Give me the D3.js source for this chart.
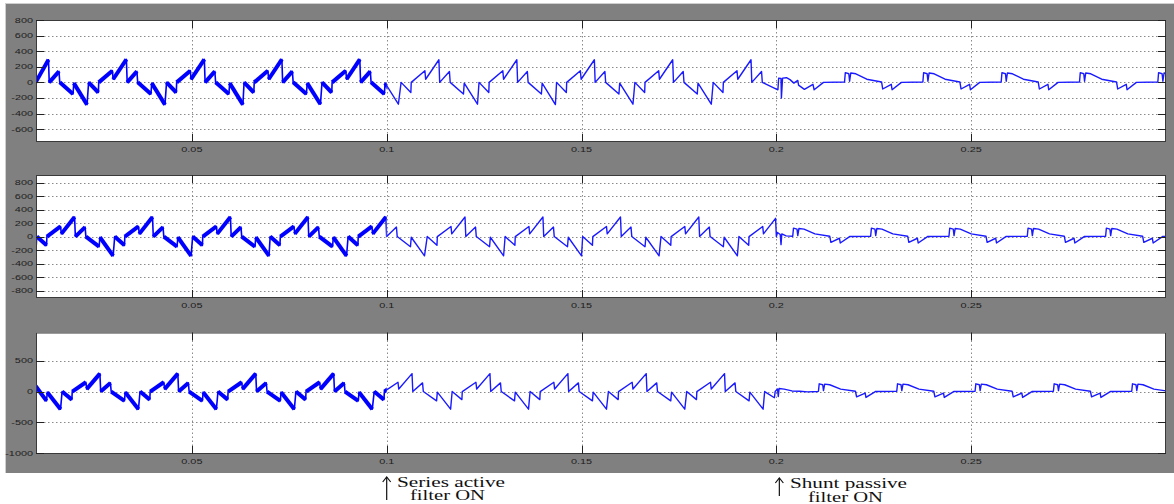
<!DOCTYPE html>
<html><head><meta charset="utf-8">
<script src="https://cdn.jsdelivr.net/npm/d3@7"></script>
<style>body{margin:0;background:#fff;} svg{display:block;}</style>
</head><body>
<svg id="chart" width="1174" height="504"></svg>
<script>
// ---------- data ----------
const xDomain = [0.01, 0.3];
const xTicks = [0.05, 0.1, 0.15, 0.2, 0.25];
const xTickLabels = ["0.05", "0.1", "0.15", "0.2", "0.25"];
const yTicksA = [800, 600, 400, 200, 0, -200, -400, -600];
const yTicksB = [800, 600, 400, 200, 0, -200, -400, -600, -800];
const yTicksC = [500, 0, -500, -1000];
const yDomainA = [-765, 800];
const yDomainB = [-910, 912];
const yDomainC = [-1010, 955];
const switchTimes = [0.1, 0.2];
const annotationLines = [["Series active", "filter ON"], ["Shunt passive", "filter ON"]];

// phase A current [time s, current A]
const phaseA = [
[0.0099,0],[0.0132,290],[0.0134,0],[0.0159,140],[0.0161,0],[0.0195,-150],[0.0197,-10],[0.0231,-285],
[0.0235,0],[0.0260,-130],[0.0261,0],[0.0296,150],[0.0298,40],[0.0332,295],[0.0334,0],[0.0359,140],[0.0361,0],[0.0395,-150],[0.0397,-10],[0.0431,-285],
[0.0435,0],[0.0460,-130],[0.0461,0],[0.0496,150],[0.0498,40],[0.0532,295],[0.0534,0],[0.0559,140],[0.0561,0],[0.0595,-150],[0.0597,-10],[0.0631,-285],
[0.0634,0],[0.0659,-130],[0.0660,0],[0.0695,150],[0.0697,40],[0.0731,295],[0.0733,0],[0.0758,140],[0.0760,0],[0.0794,-150],[0.0796,-10],[0.0830,-280],
[0.0834,0],[0.0859,-130],[0.0860,0],[0.0895,150],[0.0897,40],[0.0931,295],[0.0933,0],[0.0958,140],[0.0960,0],[0.0994,-150],[0.0996,-10],[0.1030,-280],
[0.1037,0],[0.1062,-130],[0.1063,0],[0.1098,150],[0.1100,40],[0.1134,290],[0.1136,0],[0.1161,140],[0.1163,0],[0.1197,-150],[0.1199,-10],[0.1233,-280],
[0.1237,0],[0.1262,-130],[0.1263,0],[0.1298,150],[0.1300,40],[0.1334,290],[0.1336,0],[0.1361,140],[0.1363,0],[0.1397,-150],[0.1399,-10],[0.1433,-285],
[0.1436,0],[0.1461,-130],[0.1462,0],[0.1497,150],[0.1499,40],[0.1533,290],[0.1535,0],[0.1560,140],[0.1562,0],[0.1596,-150],[0.1598,-10],[0.1632,-280],
[0.1637,0],[0.1662,-130],[0.1663,0],[0.1698,150],[0.1700,40],[0.1734,290],[0.1736,0],[0.1761,140],[0.1763,0],[0.1797,-150],[0.1799,-10],[0.1833,-280],
[0.1838,0],[0.1863,-130],[0.1864,0],[0.1899,150],[0.1901,40],[0.1935,290],[0.1937,0],[0.1962,140],[0.1964,0],
[0.2004,-95],[0.2006,55],[0.2012,50],[0.2013,-200],[0.2016,55],[0.2026,60],[0.2035,35],[0.2045,-10],[0.2055,25],[0.2057,-35],[0.2072,-90],[0.2094,-25],[0.2097,-95],[0.2121,0],
[0.2175,5],[0.2177,125],[0.2186,110],[0.2188,15],[0.2191,120],[0.2204,110],[0.2232,40],[0.2270,5],[0.2273,-85],[0.2295,-25],[0.2297,-95],[0.2321,0],
[0.2376,5],[0.2378,125],[0.2387,110],[0.2389,15],[0.2392,120],[0.2405,110],[0.2433,40],[0.2471,5],[0.2474,-85],[0.2496,-25],[0.2498,-95],[0.2522,0],
[0.2577,5],[0.2579,125],[0.2588,110],[0.2590,15],[0.2593,120],[0.2606,110],[0.2634,40],[0.2672,5],[0.2675,-85],[0.2697,-25],[0.2699,-95],[0.2723,0],
[0.2778,5],[0.2780,125],[0.2789,110],[0.2791,15],[0.2794,120],[0.2807,110],[0.2835,40],[0.2873,5],[0.2876,-85],[0.2898,-25],[0.2900,-95],[0.2924,0],
[0.2979,5],[0.2981,125],[0.2990,110],[0.2992,15],[0.2995,120],[0.3008,110]
];

// phase B current
const phaseB = [
[0.0099,-285],[0.0102,0],[0.0127,-130],[0.0128,0],[0.0163,150],[0.0165,40],[0.0199,290],[0.0201,0],[0.0226,140],[0.0228,0],[0.0262,-150],[0.0264,-10],[0.0298,-285],
[0.0302,0],[0.0327,-130],[0.0328,0],[0.0363,150],[0.0365,40],[0.0399,290],[0.0401,0],[0.0426,140],[0.0428,0],[0.0462,-150],[0.0464,-10],[0.0498,-285],
[0.0502,0],[0.0527,-130],[0.0528,0],[0.0563,150],[0.0565,40],[0.0599,290],[0.0601,0],[0.0626,140],[0.0628,0],[0.0662,-150],[0.0664,-10],[0.0698,-285],
[0.0701,0],[0.0726,-130],[0.0727,0],[0.0762,150],[0.0764,40],[0.0798,290],[0.0800,0],[0.0825,140],[0.0827,0],[0.0861,-150],[0.0863,-10],[0.0897,-285],
[0.0901,0],[0.0926,-130],[0.0927,0],[0.0962,150],[0.0964,40],[0.0998,290],[0.1000,0],[0.1025,140],[0.1027,0],[0.1061,-150],[0.1063,-10],[0.1097,-285],
[0.1104,0],[0.1129,-130],[0.1130,0],[0.1165,150],[0.1167,40],[0.1201,290],[0.1203,0],[0.1228,140],[0.1230,0],[0.1264,-150],[0.1266,-10],[0.1300,-285],
[0.1304,0],[0.1329,-130],[0.1330,0],[0.1365,150],[0.1367,40],[0.1401,290],[0.1403,0],[0.1428,140],[0.1430,0],[0.1464,-150],[0.1466,-10],[0.1500,-285],
[0.1503,0],[0.1528,-130],[0.1529,0],[0.1564,150],[0.1566,40],[0.1600,290],[0.1602,0],[0.1627,140],[0.1629,0],[0.1663,-150],[0.1665,-10],[0.1699,-285],
[0.1704,0],[0.1729,-130],[0.1730,0],[0.1765,150],[0.1767,40],[0.1801,290],[0.1803,0],[0.1828,140],[0.1830,0],[0.1864,-150],[0.1866,-10],[0.1900,-285],
[0.1904,0],[0.1929,-130],[0.1930,0],[0.1965,150],[0.1967,40],[0.1998,270],[0.2000,0],[0.2003,60],[0.2010,30],[0.2012,-120],[0.2014,40],[0.2025,10],
[0.2042,5],[0.2044,125],[0.2053,110],[0.2055,15],[0.2058,120],[0.2071,110],[0.2099,40],[0.2137,5],[0.2140,-85],[0.2162,-25],[0.2164,-95],[0.2188,0],
[0.2242,5],[0.2244,125],[0.2253,110],[0.2255,15],[0.2258,120],[0.2271,110],[0.2299,40],[0.2337,5],[0.2340,-85],[0.2362,-25],[0.2364,-95],[0.2388,0],
[0.2443,5],[0.2445,125],[0.2454,110],[0.2456,15],[0.2459,120],[0.2472,110],[0.2500,40],[0.2538,5],[0.2541,-85],[0.2563,-25],[0.2565,-95],[0.2589,0],
[0.2644,5],[0.2646,125],[0.2655,110],[0.2657,15],[0.2660,120],[0.2673,110],[0.2701,40],[0.2739,5],[0.2742,-85],[0.2764,-25],[0.2766,-95],[0.2790,0],
[0.2845,5],[0.2847,125],[0.2856,110],[0.2858,15],[0.2861,120],[0.2874,110],[0.2902,40],[0.2940,5],[0.2943,-85],[0.2965,-25],[0.2967,-95],[0.2991,0],[0.3010,5]
];

// phase C current
const phaseC = [
[0.0099,90],[0.0127,-150],[0.0129,-10],[0.0163,-285],
[0.0167,0],[0.0192,-130],[0.0193,0],[0.0228,150],[0.0230,40],[0.0264,290],[0.0266,0],[0.0291,140],[0.0293,0],[0.0327,-150],[0.0329,-10],[0.0363,-285],
[0.0367,0],[0.0392,-130],[0.0393,0],[0.0428,150],[0.0430,40],[0.0464,290],[0.0466,0],[0.0491,140],[0.0493,0],[0.0527,-150],[0.0529,-10],[0.0563,-285],
[0.0567,0],[0.0592,-130],[0.0593,0],[0.0628,150],[0.0630,40],[0.0664,290],[0.0666,0],[0.0691,140],[0.0693,0],[0.0727,-150],[0.0729,-10],[0.0763,-285],
[0.0767,0],[0.0792,-130],[0.0793,0],[0.0828,150],[0.0830,40],[0.0864,290],[0.0866,0],[0.0891,140],[0.0893,0],[0.0927,-150],[0.0929,-10],[0.0963,-285],
[0.0968,0],[0.0993,-130],[0.0994,0],[0.1029,150],[0.1031,40],[0.1065,290],[0.1067,0],[0.1092,140],[0.1094,0],[0.1128,-150],[0.1130,-10],[0.1164,-285],
[0.1168,0],[0.1193,-130],[0.1194,0],[0.1229,150],[0.1231,40],[0.1265,290],[0.1267,0],[0.1292,140],[0.1294,0],[0.1328,-150],[0.1330,-10],[0.1364,-285],
[0.1368,0],[0.1393,-130],[0.1394,0],[0.1429,150],[0.1431,40],[0.1465,290],[0.1467,0],[0.1492,140],[0.1494,0],[0.1528,-150],[0.1530,-10],[0.1564,-285],
[0.1569,0],[0.1594,-130],[0.1595,0],[0.1630,150],[0.1632,40],[0.1666,290],[0.1668,0],[0.1693,140],[0.1695,0],[0.1729,-150],[0.1731,-10],[0.1765,-285],
[0.1770,0],[0.1795,-130],[0.1796,0],[0.1831,150],[0.1833,40],[0.1867,290],[0.1869,0],[0.1894,140],[0.1896,0],[0.1930,-150],[0.1932,-10],[0.1966,-285],
[0.1970,0],[0.1995,-100],[0.1997,0],[0.2003,40],[0.2005,-80],[0.2007,50],[0.2020,40],[0.2040,10],[0.2060,5],[0.2080,-5],[0.2107,0],
[0.2108,5],[0.2110,125],[0.2119,110],[0.2121,15],[0.2124,120],[0.2137,110],[0.2165,40],[0.2203,5],[0.2206,-85],[0.2228,-25],[0.2230,-95],[0.2254,0],
[0.2309,5],[0.2311,125],[0.2320,110],[0.2322,15],[0.2325,120],[0.2338,110],[0.2366,40],[0.2404,5],[0.2407,-85],[0.2429,-25],[0.2431,-95],[0.2455,0],
[0.2510,5],[0.2512,125],[0.2521,110],[0.2523,15],[0.2526,120],[0.2539,110],[0.2567,40],[0.2605,5],[0.2608,-85],[0.2630,-25],[0.2632,-95],[0.2656,0],
[0.2711,5],[0.2713,125],[0.2722,110],[0.2724,15],[0.2727,120],[0.2740,110],[0.2768,40],[0.2806,5],[0.2809,-85],[0.2831,-25],[0.2833,-95],[0.2857,0],
[0.2912,5],[0.2914,125],[0.2923,110],[0.2925,15],[0.2928,120],[0.2941,110],[0.2969,40],[0.3007,5]
];

// ---------- drawing ----------
const svg = d3.select("#chart");
const L = 36, R = 1166;
const panels = [
  {data: phaseA, yDomain: yDomainA, yTicks: yTicksA, top: 20, bottom: 142},
  {data: phaseB, yDomain: yDomainB, yTicks: yTicksB, top: 175, bottom: 298},
  {data: phaseC, yDomain: yDomainC, yTicks: yTicksC, top: 332.5, bottom: 454}
];
const x = d3.scaleLinear().domain(xDomain).range([L, R]);

// gray figure background
svg.append("rect").attr("x", 5).attr("y", 3).attr("width", 1169).attr("height", 470).attr("fill", "#808080");
svg.append("line").attr("x1", 5.5).attr("x2", 5.5).attr("y1", 3).attr("y2", 473).attr("stroke", "#cfcfcf");
svg.append("line").attr("x1", 5).attr("x2", 1174).attr("y1", 3.5).attr("y2", 3.5).attr("stroke", "#cfcfcf");

const defs = svg.append("defs");
const labelFont = "'Liberation Sans', Arial, sans-serif";

panels.forEach((p, i) => {
  const y = d3.scaleLinear().domain(p.yDomain).range([p.bottom, p.top]);
  const g = svg.append("g");
  g.append("rect").attr("x", L).attr("y", p.top).attr("width", R - L).attr("height", p.bottom - p.top).attr("fill", "#fff");

  // grid
  g.selectAll(".hg").data(p.yTicks).join("line")
    .attr("x1", L).attr("x2", R).attr("y1", d => Math.round(y(d)) + 0.5).attr("y2", d => Math.round(y(d)) + 0.5)
    .attr("stroke", "#8a8a8a").attr("stroke-dasharray", "1.5,2.5").attr("stroke-width", 1);
  g.selectAll(".vg").data(xTicks).join("line")
    .attr("x1", d => Math.round(x(d)) + 0.5).attr("x2", d => Math.round(x(d)) + 0.5).attr("y1", p.top).attr("y2", p.bottom)
    .attr("stroke", "#8a8a8a").attr("stroke-dasharray", "1.5,2.5").attr("stroke-width", 1);

  // clips
  const xs = x(switchTimes[0]);
  defs.append("clipPath").attr("id", "clipThick" + i).append("rect")
    .attr("x", L).attr("y", p.top).attr("width", xs - L).attr("height", p.bottom - p.top);
  defs.append("clipPath").attr("id", "clipThin" + i).append("rect")
    .attr("x", xs).attr("y", p.top).attr("width", R - xs).attr("height", p.bottom - p.top);
  defs.append("clipPath").attr("id", "clipAll" + i).append("rect")
    .attr("x", L).attr("y", p.top).attr("width", R - L).attr("height", p.bottom - p.top);

  const line = d3.line().x(d => x(d[0])).y(d => y(d[1]));
  // ramps before the series filter switches on carry heavy ripple -> drawn as thick bands
  const ramps = d3.pairs(p.data).filter(([a, b]) => b[0] - a[0] > 0.001 && a[0] < switchTimes[0]);
  g.append("g").attr("clip-path", `url(#clipThick${i})`).selectAll("path").data(ramps).join("path")
    .attr("d", d => line(d)).attr("fill", "none").attr("stroke", "#0000ff")
    .attr("stroke-width", 4).attr("stroke-linecap", "butt");
  g.append("path").datum(p.data).attr("d", line).attr("fill", "none")
    .attr("stroke", "#0000ff").attr("stroke-width", 1.6).attr("stroke-linejoin", "round")
    .attr("clip-path", `url(#clipThick${i})`);
  g.append("path").datum(p.data).attr("d", line).attr("fill", "none")
    .attr("stroke", "#1a1aff").attr("stroke-width", 1.4).attr("stroke-linejoin", "round")
    .attr("clip-path", `url(#clipThin${i})`);

  // border
  g.append("rect").attr("x", L + 0.5).attr("y", p.top + 0.5).attr("width", R - L - 1).attr("height", p.bottom - p.top - 1)
    .attr("fill", "none").attr("stroke", "#3a3a3a").attr("stroke-width", 1);

  // ticks (inside)
  p.yTicks.forEach(t => {
    const yy = Math.round(y(t)) + 0.5;
    g.append("line").attr("x1", L).attr("x2", L + 8).attr("y1", yy).attr("y2", yy).attr("stroke", "#222");
    g.append("line").attr("x1", R - 8).attr("x2", R).attr("y1", yy).attr("y2", yy).attr("stroke", "#222");
    g.append("text").attr("transform", `translate(${L - 3},${y(t) + 2.5}) scale(1.45,1)`)
      .attr("text-anchor", "end").attr("font-family", labelFont).attr("font-size", 7.5)
      .attr("fill", "#1e1e1e").text(String(t));
  });
  xTicks.forEach((t, k) => {
    const xx = Math.round(x(t)) + 0.5;
    g.append("line").attr("x1", xx).attr("x2", xx).attr("y1", p.bottom - 8).attr("y2", p.bottom).attr("stroke", "#222");
    g.append("line").attr("x1", xx).attr("x2", xx).attr("y1", p.top).attr("y2", p.top + 8).attr("stroke", "#222");
    g.append("text").attr("transform", `translate(${x(t)},${p.bottom + 9.5}) scale(1.45,1)`)
      .attr("text-anchor", "middle").attr("font-family", labelFont).attr("font-size", 7.5)
      .attr("fill", "#1e1e1e").text(xTickLabels[k]);
  });
});

// annotations
const serif = "'Liberation Serif', 'Times New Roman', serif";
const ann = [
  {t: switchTimes[0], yTop: 477, yBot: 500, l1x: 397, l1y: 487, l1w: 108, l2x: 410, l2y: 500, l2w: 75},
  {t: switchTimes[1], yTop: 478, yBot: 496, l1x: 790, l1y: 488, l1w: 117, l2x: 808, l2y: 502, l2w: 75}
];
ann.forEach((a, i) => {
  const ax = x(a.t) + (i === 1 ? 3 : 0);
  svg.append("line").attr("x1", ax).attr("x2", ax).attr("y1", a.yTop).attr("y2", a.yBot).attr("stroke", "#111").attr("stroke-width", 1.2);
  svg.append("path").attr("d", `M${ax - 4},${a.yTop + 5} L${ax},${a.yTop} L${ax + 4},${a.yTop + 5}`)
    .attr("fill", "none").attr("stroke", "#111").attr("stroke-width", 1.2);
  svg.append("text").attr("x", a.l1x).attr("y", a.l1y).attr("font-family", serif).attr("font-size", 14)
    .attr("textLength", a.l1w).attr("lengthAdjust", "spacingAndGlyphs").attr("fill", "#111").text(annotationLines[i][0]);
  svg.append("text").attr("x", a.l2x).attr("y", a.l2y).attr("font-family", serif).attr("font-size", 14)
    .attr("textLength", a.l2w).attr("lengthAdjust", "spacingAndGlyphs").attr("fill", "#111").text(annotationLines[i][1]);
});
</script>
</body></html>
